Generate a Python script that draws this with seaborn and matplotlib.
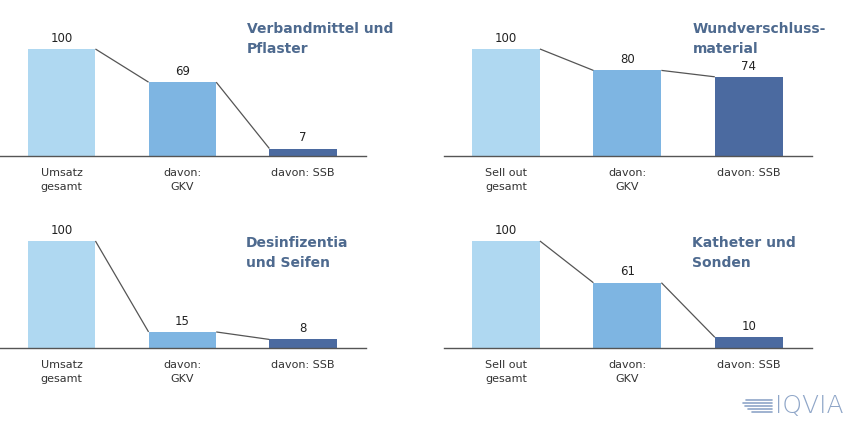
import matplotlib
matplotlib.use("Agg")
import matplotlib.pyplot as plt
import seaborn as sns
import pandas as pd
from matplotlib.lines import Line2D

sns.set_theme(style="white")
plt.rcParams['font.family'] = ['DejaVu Sans']

# ---- data ----
labels_umsatz = ["Umsatz\ngesamt", "davon:\nGKV", "davon: SSB"]
labels_sellout = ["Sell out\ngesamt", "davon:\nGKV", "davon: SSB"]
titles = ["Verbandmittel und\nPflaster", "Wundverschluss-\nmaterial",
          "Desinfizentia\nund Seifen", "Katheter und\nSonden"]
vals_verband = [100, 69, 7]
vals_wund = [100, 80, 74]
vals_desinf = [100, 15, 8]
vals_katheter = [100, 61, 10]
bar_colors = ["#afd8f1", "#7eb5e2", "#4b6aa0"]

panels = [
    (titles[0], labels_umsatz, vals_verband),
    (titles[1], labels_sellout, vals_wund),
    (titles[2], labels_umsatz, vals_desinf),
    (titles[3], labels_sellout, vals_katheter),
]

W, H = 853, 437
fig = plt.figure(figsize=(W / 100, H / 100), dpi=100)

ymax = 120
px_per_unit = 1.07
geo = [(0, 366, 156), (444, 812, 156), (0, 366, 348), (444, 812, 348)]
title_pos = [(247, 22), (693, 22), (246, 236), (692, 236)]
bar_w = 0.56

for (title, cats, vals), (x0, x1, base), (tx, ty) in zip(panels, geo, title_pos):
    hpx = ymax * px_per_unit
    ax = fig.add_axes([x0 / W, (H - base) / H, (x1 - x0) / W, hpx / H])
    df = pd.DataFrame({"cat": cats, "val": vals})
    sns.barplot(data=df, x="cat", y="val", hue="cat", palette=bar_colors,
                width=bar_w, legend=False, ax=ax, saturation=1, edgecolor="none")
    ax.set_ylim(0, ymax)
    ax.set_xlim(-0.51, 2.52)
    for i in range(len(vals) - 1):
        ax.plot([i + bar_w / 2, i + 1 - bar_w / 2], [vals[i], vals[i + 1]],
                color="#555555", lw=0.9, solid_capstyle="butt")
    for i, v in enumerate(vals):
        ax.text(i, v + 4, str(v), ha="center", va="bottom", fontsize=8.5, color="#222222")
    for s in ["top", "right", "left"]:
        ax.spines[s].set_visible(False)
    ax.spines["bottom"].set_color("#555555")
    ax.spines["bottom"].set_linewidth(1.0)
    ax.set_yticks([])
    ax.set_xlabel("")
    ax.set_ylabel("")
    ax.tick_params(axis="x", length=0, pad=9)
    ax.set_xticks(range(3))
    ax.set_xticklabels(cats, fontsize=8, color="#333333", linespacing=1.5)
    ax.patch.set_alpha(0)
    fig.text(tx / W, 1 - ty / H, title, ha="left", va="top", fontsize=10,
             fontweight="bold", color="#4e6a8f", linespacing=1.55)

# IQVIA logo
for k, (lx0, ly) in enumerate([(746, 400), (743, 403), (745, 406), (748, 409), (752, 412)]):
    fig.add_artist(Line2D([lx0 / W, 772 / W], [1 - ly / H, 1 - ly / H],
                          color="#8fa6c8", lw=1.2, transform=fig.transFigure))
fig.text(775 / W, 1 - 406 / H, "IQVIA", ha="left", va="center", fontsize=18,
         color="#8fa6c8", fontweight="light")

fig.savefig("out.png", dpi=100, facecolor="white")
